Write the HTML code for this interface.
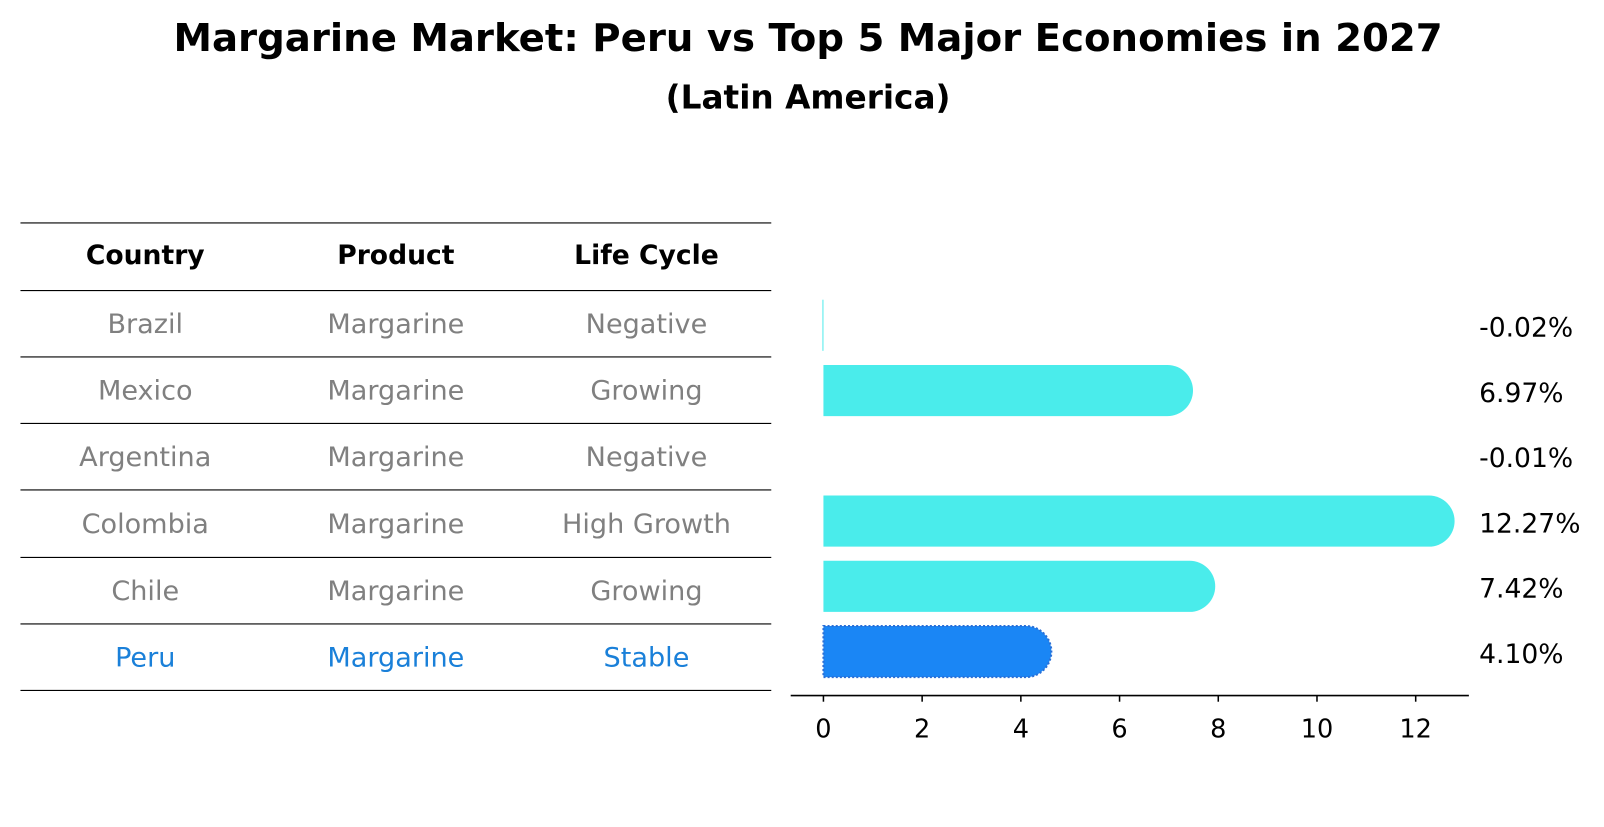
<!DOCTYPE html>
<html><head><meta charset="utf-8"><style>
body{margin:0;background:#fff;font-family:"DejaVu Sans","Liberation Sans",sans-serif}
</style></head><body>
<svg id="c" width="1604" height="823" xmlns="http://www.w3.org/2000/svg">
<g transform="scale(1.0229)">
<text x="790" y="50" text-anchor="middle" font-size="37.8" font-weight="bold">Margarine Market: Peru vs Top 5 Major Economies in 2027</text>
<text x="790" y="106" text-anchor="middle" font-size="32" font-weight="bold">(Latin America)</text>
<g id="tbl"></g>
<g id="bars"></g>
</g>
</svg>
<script>
const countries=["Brazil","Mexico","Argentina","Colombia","Chile","Peru"];
const products=["Margarine","Margarine","Margarine","Margarine","Margarine","Margarine"];
const lifecycle=["Negative","Growing","Negative","High Growth","Growing","Stable"];
const values=[-0.02,6.97,-0.01,12.27,7.42,4.10];
const labels=["-0.02%","6.97%","-0.01%","12.27%","7.42%","4.10%"];
const ticks=[0,2,4,6,8,10,12];
const NS="http://www.w3.org/2000/svg";
function mk(t,a,p){const e=document.createElementNS(NS,t);for(const k in a)e.setAttribute(k,a[k]);p.appendChild(e);return e;}
const tbl=document.getElementById('tbl'),bars=document.getElementById('bars');
const cols=[142,387,632];
const lines=[218,284,349,414,479,545,610,675];
lines.forEach((y,i)=>{const l=mk('line',{x1:20,x2:754,y1:y,y2:y,stroke:'#000','stroke-width':1.1},tbl);

});
["Country","Product","Life Cycle"].forEach((h,i)=>{const t=mk('text',{x:cols[i],y:258,'text-anchor':'middle','font-size':26,'font-weight':'bold'},tbl);t.textContent=h;

});
countries.forEach((c,r)=>{const y=(lines[r+1]+lines[r+2])/2+9;const col=r===countries.length-1?'#1a80d9':'#808080';
[c,products[r],lifecycle[r]].forEach((v,i)=>{const t=mk('text',{x:cols[i],y:y,'text-anchor':'middle','font-size':26.5,fill:col},tbl);t.textContent=v;

});});
const x0=805,sc=(1384-805)/12;
const X=v=>x0+v*sc;
const Y=i=>318+i*63.8;
const h=50,r=25;
values.forEach((v,i)=>{const yc=Y(i);const last=i===values.length-1;const fill=last?'#1a86f5':'#4aeceb';
let el;
if(v>0){const xe=X(v);
el=mk('path',{d:`M${x0},${yc-h/2}H${xe}A${r},${r} 0 0 1 ${xe},${yc+h/2}H${x0}Z`,fill:fill},bars);
if(last){el.setAttribute('stroke','#2a6fd6');el.setAttribute('stroke-width',2);el.setAttribute('stroke-dasharray','2,2');}
}else{const w=Math.abs(v)*sc;el=mk('rect',{x:x0-w,y:yc-h/2,width:w<0.7?0:w,height:h,fill:fill},bars);}


const t=mk('text',{x:1446,y:yc+11,'font-size':26},bars);t.textContent=labels[i];

});
const ax=mk('line',{x1:773,x2:1436,y1:680,y2:680,stroke:'#000','stroke-width':1.5},bars);


ticks.forEach(t=>{const tk=mk('line',{x1:X(t),x2:X(t),y1:680,y2:686,stroke:'#000','stroke-width':1.5},bars);


const tl=mk('text',{x:X(t),y:721,'text-anchor':'middle','font-size':25},bars);tl.textContent=t;

});
</script>
</body></html>
